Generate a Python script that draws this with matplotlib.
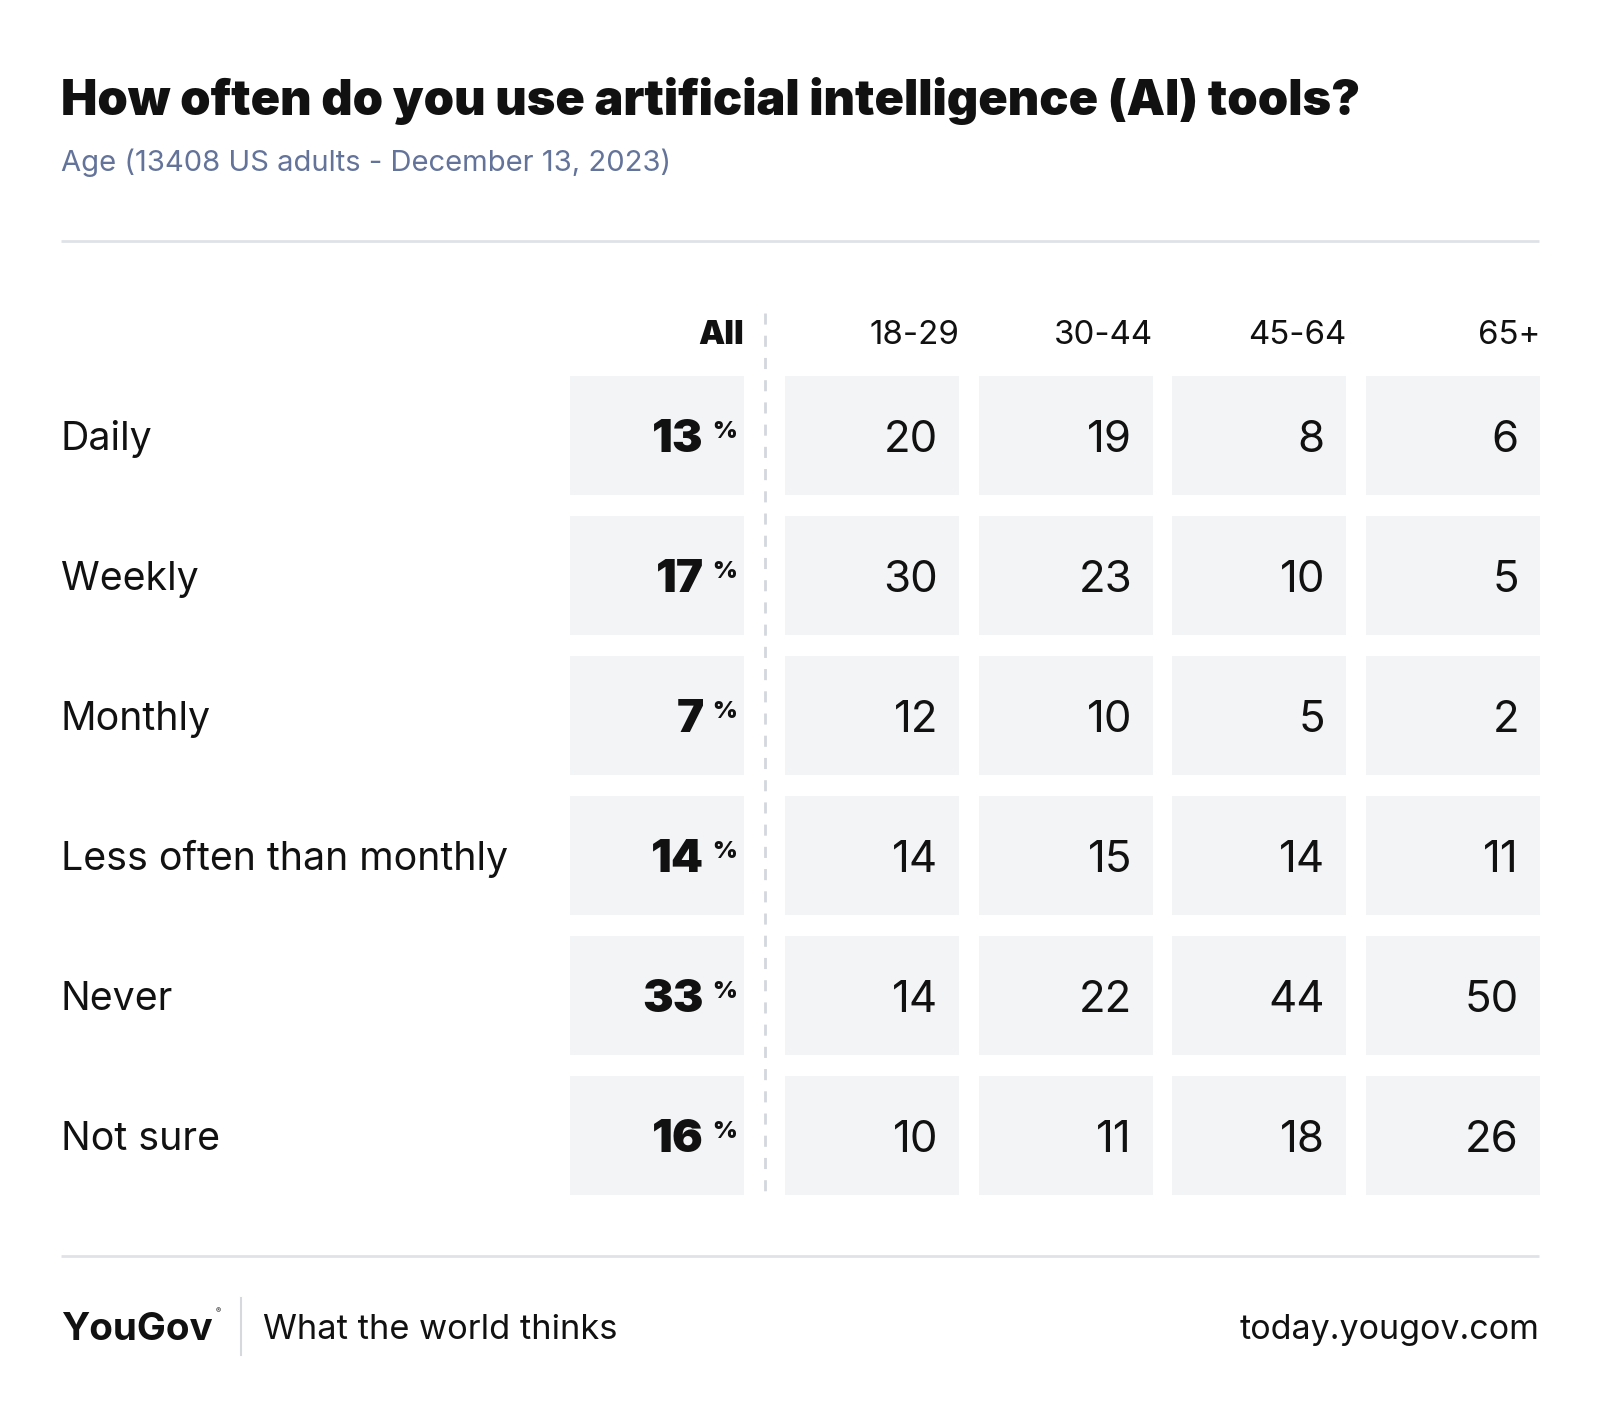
import matplotlib
matplotlib.use("Agg")
import matplotlib.pyplot as plt
from matplotlib.patches import Rectangle

title = "How often do you use artificial intelligence (AI) tools?"
subtitle = "Age (13408 US adults - December 13, 2023)"
columns = ["All", "18-29", "30-44", "45-64", "65+"]
rows = ["Daily", "Weekly", "Monthly", "Less often than monthly", "Never", "Not sure"]
all_vals = [13, 17, 7, 14, 33, 16]
age_18_29 = [20, 30, 12, 14, 14, 10]
age_30_44 = [19, 23, 10, 15, 22, 11]
age_45_64 = [8, 10, 5, 14, 44, 18]
age_65p = [6, 5, 2, 11, 50, 26]
footer_brand = "YouGov"
footer_tag = "What the world thinks"
footer_url = "today.yougov.com"

values = [all_vals, age_18_29, age_30_44, age_45_64, age_65p]

W, H = 1600, 1415
FONT = ["Inter", "DejaVu Sans"]
plt.rcParams["font.family"] = FONT

fig = plt.figure(figsize=(W / 100, H / 100), dpi=100)
ax = fig.add_axes([0, 0, 1, 1])
ax.set_xlim(0, W)
ax.set_ylim(H, 0)
ax.axis("off")

TXT = "#111111"
CELL = "#f3f4f6"
RULE = "#dfe2e7"

# title and subtitle
ax.text(61, 101, title, fontsize=35, fontweight="black", color=TXT, va="center", ha="left")
ax.text(61, 163, subtitle, fontsize=21, color="#63739a", va="center", ha="left")
ax.plot([61, 1539], [241, 241], color=RULE, lw=2, solid_capstyle="butt")

# grid layout
col_left = [570, 785, 979, 1172, 1366]
cell_w = 174
row_top0, row_pitch, row_h = 375.5, 140.0, 119.5

# header
for j, c in enumerate(columns):
    ax.text(col_left[j] + cell_w, 335, c, fontsize=23.8,
            fontweight="black" if j == 0 else "normal",
            color=TXT, ha="right", va="center")

# dashed separator
ax.plot([765, 765], [313, row_top0 + 5 * row_pitch + row_h], color="#d3d7de",
        lw=2, ls=(0, (4, 4)))

for i, r in enumerate(rows):
    top = row_top0 + i * row_pitch
    cy = top + row_h / 2
    ax.text(61, cy + 4, r, fontsize=28.3, color=TXT, ha="left", va="center")
    for j in range(len(columns)):
        ax.add_patch(Rectangle((col_left[j], top), cell_w, row_h, facecolor=CELL,
                               edgecolor="none"))
        v = values[j][i]
        if j == 0:
            ax.text(col_left[j] + cell_w - 40, cy + 5, str(v), fontsize=33,
                    fontweight="black", color=TXT, ha="right", va="center")
            ax.text(col_left[j] + cell_w - 32, cy - 3, "%", fontsize=17,
                    fontweight="black", color=TXT, ha="left", va="center")
        else:
            ax.text(col_left[j] + cell_w - 21, cy + 5, str(v), fontsize=31.5,
                    color=TXT, ha="right", va="center")

# footer
ax.plot([61, 1539], [1256, 1256], color=RULE, lw=2, solid_capstyle="butt")
ax.text(61, 1330, footer_brand, fontsize=27.8, fontweight="bold", color=TXT,
        ha="left", va="center")
ax.text(218, 1311, "®", fontsize=5.5, color=TXT, ha="center", va="center")
ax.plot([241, 241], [1298, 1355], color="#d5d8dd", lw=1.5)
ax.text(263, 1330, footer_tag, fontsize=24.8, color=TXT, ha="left", va="center")
ax.text(1539, 1330, footer_url, fontsize=24.5, color=TXT, ha="right", va="center")

fig.savefig("out.png", dpi=100, facecolor="white")
